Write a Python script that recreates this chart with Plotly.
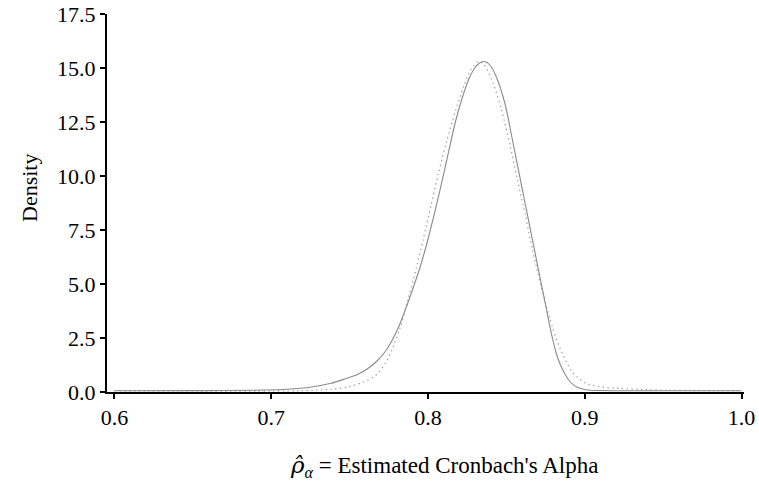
import plotly.graph_objects as go

# Solid curve: estimated sampling density of Cronbach's alpha
solid_x = [0.6, 0.655, 0.68625, 0.70688, 0.72375, 0.73813, 0.74688, 0.755, 0.76125,
           0.7675, 0.7725, 0.77688, 0.78125, 0.785, 0.78938, 0.79438, 0.79938,
           0.80395, 0.80855, 0.81296, 0.8173, 0.82171, 0.82632, 0.82961, 0.83289,
           0.83618, 0.83947, 0.84362, 0.84914, 0.85349, 0.85789, 0.86217, 0.86645,
           0.87072, 0.875, 0.87875, 0.88158, 0.88421, 0.8875, 0.89079, 0.89474,
           0.90064, 0.91026, 0.92308, 1.0]
solid_y = [0.060, 0.065, 0.079, 0.116, 0.208, 0.403, 0.602, 0.810, 1.065,
           1.435, 1.852, 2.361, 3.009, 3.704, 4.583, 5.648, 6.898,
           8.218, 9.630, 11.065, 12.454, 13.588, 14.537, 14.977, 15.231,
           15.301, 15.139, 14.583, 13.333, 11.806, 10.199, 8.657, 7.106,
           5.556, 4.028, 2.685, 1.852, 1.296, 0.810, 0.463, 0.231,
           0.102, 0.069, 0.060, 0.060]

# Dotted curve: comparison density
dotted_x = [0.6, 0.7175, 0.73813, 0.74875, 0.75813, 0.76625, 0.7725, 0.7775,
            0.78219, 0.78719, 0.7925, 0.79688, 0.80197, 0.80658, 0.81184, 0.8173,
            0.82283, 0.82763, 0.83224, 0.83553, 0.84145, 0.84691, 0.85243, 0.85678,
            0.8623, 0.86664, 0.87217, 0.87763, 0.88421, 0.89191, 0.90064, 0.91135,
            0.92308, 0.9359, 0.95513, 1.0]
dotted_y = [0.060, 0.060, 0.125, 0.231, 0.440, 0.741, 1.296, 2.037,
            2.963, 4.259, 5.727, 7.037, 8.657, 10.093, 11.588, 12.963,
            14.167, 14.954, 15.301, 15.185, 14.306, 13.056, 11.389, 9.907,
            8.102, 6.574, 4.907, 3.412, 2.023, 0.940, 0.403, 0.231,
            0.162, 0.116, 0.079, 0.060]

x_ticks = [0.6, 0.7, 0.8, 0.9, 1.0]
x_tick_labels = ["0.6", "0.7", "0.8", "0.9", "1.0"]
y_ticks = [0.0, 2.5, 5.0, 7.5, 10.0, 12.5, 15.0, 17.5]
y_tick_labels = ["0.0", "2.5", "5.0", "7.5", "10.0", "12.5", "15.0", "17.5"]

x_title = ("<span style=\"font-family:'DejaVu Serif'\"><i>ρ̂</i></span>"
           "<sub><i>α</i></sub> = Estimated Cronbach's Alpha")
y_title = "Density"

FONT = "Liberation Serif, Times New Roman, serif"
FS = 22

fig = go.Figure()
fig.add_trace(go.Scatter(
    x=dotted_x, y=dotted_y, mode="lines",
    line=dict(color="#a4a4a4", width=1.3, dash="1.4px,3.4px", shape="spline",
              smoothing=0.8),
    showlegend=False, hoverinfo="skip"))
fig.add_trace(go.Scatter(
    x=solid_x, y=solid_y, mode="lines",
    line=dict(color="#8a8a8a", width=1.1, shape="spline", smoothing=0.8),
    showlegend=False, hoverinfo="skip"))

axis_common = dict(
    showgrid=False, zeroline=False, showline=True, linecolor="black",
    linewidth=2, ticks="outside", ticklen=5, tickwidth=1.5, tickcolor="black",
    tickfont=dict(family=FONT, size=FS, color="black"), automargin=False,
)

fig.update_layout(
    width=759, height=486,
    margin=dict(l=107, r=15, t=14, b=94, autoexpand=False),
    paper_bgcolor="white", plot_bgcolor="white",
    font=dict(family=FONT, size=FS, color="black"),
    xaxis=dict(range=[0.59528, 1.00153], tickvals=x_ticks, ticktext=x_tick_labels,
               **axis_common),
    yaxis=dict(range=[0.0, 17.5], tickvals=y_ticks, ticktext=y_tick_labels,
               **axis_common),
    annotations=[
        dict(text=x_title, xref="paper", yref="paper", x=0.529, y=-0.1958,
             xanchor="center", yanchor="middle", showarrow=False,
             font=dict(family=FONT, size=FS + 1, color="black")),
        dict(text=y_title, xref="paper", yref="paper", x=-0.1209, y=0.5397,
             xanchor="center", yanchor="middle", textangle=-90, showarrow=False,
             font=dict(family=FONT, size=FS, color="black")),
    ],
)

fig.write_html("out.html")
